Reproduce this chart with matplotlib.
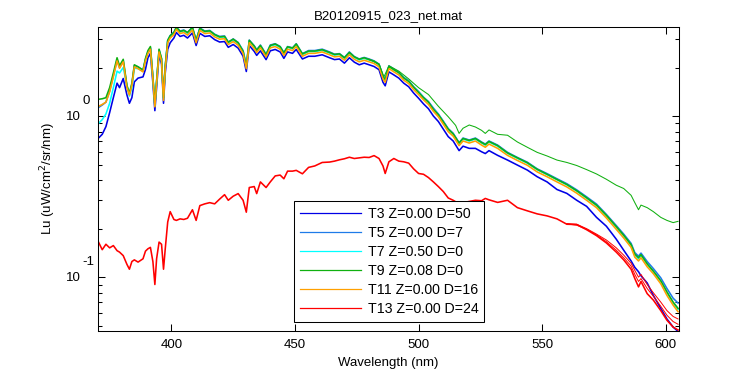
import matplotlib
matplotlib.use("Agg")
import matplotlib.pyplot as plt
from matplotlib.lines import Line2D
from matplotlib.ticker import LogLocator, NullFormatter


# wavelength grid (nm) shared by the main spectra
wl = [370.5, 372, 373.5, 375, 376.5, 378, 379, 380.5, 382, 383, 384, 385, 386.5,
      388.5, 389.5, 390.5, 391.5, 392.5, 393.3, 394, 395, 396, 396.8, 397.5, 398.5,
      399.5, 401, 402, 403.5, 405, 406.5, 408.5, 410, 411.5, 413.5, 415.5, 417.5,
      419.5, 421.5, 423, 425, 427, 429, 430.3, 431.5, 433.5, 434.5, 436, 438.3, 440,
      442, 444, 445.5, 447, 449, 450.5, 453, 455.5, 458, 461, 464, 466, 468, 470,
      472, 474, 476, 478, 480, 482, 484, 485.6, 486.5, 488, 490, 492, 494, 496, 498,
      500, 502, 504, 506, 508, 510, 512, 514, 516.4, 518, 520.5, 523, 525.5, 527,
      528.5, 532, 536, 540, 544, 548, 552, 556, 560, 564, 568, 572, 576, 580, 583,
      586, 587.5, 589, 590, 592.5, 595, 598, 600.5, 603, 605]

lu_t11 = [1.15, 1.18, 1.22, 1.41, 1.75, 2.2, 1.98, 2.17, 1.5, 1.35, 1.55, 2.02, 1.97,
          1.88, 2.2, 2.45, 2.6, 1.7, 1.14, 1.6, 2.5, 2.2, 1.25, 1.97, 2.85,
          3.05, 3.2, 3.45, 3.25, 3.3, 3.18, 3.42, 2.85, 3.4, 3.25, 3.28, 3.1,
          3.0, 3.02, 2.78, 2.9, 2.75, 2.45, 1.97, 2.85, 2.62, 2.48, 2.65, 2.33, 2.65,
          2.7, 2.6, 2.38, 2.6, 2.55, 2.7, 2.35, 2.45, 2.45, 2.5, 2.4, 2.33, 2.35, 2.22,
          2.4, 2.25, 2.17, 2.22, 2.17, 2.12, 2.02, 1.7, 1.62, 1.97, 1.88, 1.8, 1.67, 1.59, 1.46,
          1.36, 1.26, 1.18, 1.07, 0.99, 0.89, 0.80, 0.75, 0.655, 0.70, 0.68, 0.70, 0.66, 0.64,
          0.67, 0.63, 0.57, 0.53, 0.495, 0.45, 0.42, 0.39, 0.363, 0.332, 0.30, 0.27, 0.233, 0.198, 0.175,
          0.153, 0.133, 0.126, 0.132, 0.116, 0.105, 0.091, 0.077, 0.067, 0.061]

lu_t9 = [1.27, 1.28, 1.30, 1.50, 1.85, 2.3, 2.05, 2.25, 1.55, 1.38, 1.6, 2.08, 2.02,
         1.93, 2.28, 2.55, 2.7, 1.75, 1.17, 1.65, 2.6, 2.28, 1.3, 2.05, 2.95,
         3.15, 3.3, 3.55, 3.35, 3.4, 3.3, 3.55, 2.95, 3.5, 3.35, 3.38, 3.2,
         3.1, 3.12, 2.87, 3.0, 2.85, 2.52, 2.03, 2.95, 2.72, 2.56, 2.74, 2.4, 2.74,
         2.8, 2.69, 2.46, 2.69, 2.64, 2.8, 2.43, 2.53, 2.53, 2.58, 2.48, 2.41, 2.43, 2.3,
         2.48, 2.33, 2.25, 2.3, 2.24, 2.19, 2.09, 1.76, 1.68, 2.03, 1.94, 1.86, 1.72, 1.64, 1.51,
         1.40, 1.30, 1.22, 1.10, 1.02, 0.92, 0.83, 0.775, 0.68, 0.725, 0.705, 0.725, 0.685, 0.665,
         0.695, 0.655, 0.59, 0.55, 0.513, 0.467, 0.435, 0.404, 0.376, 0.344, 0.311, 0.28, 0.242, 0.206, 0.182,
         0.159, 0.139, 0.132, 0.138, 0.121, 0.109, 0.095, 0.081, 0.070, 0.064]

lu_t7 = [0.90, 0.95, 1.03, 1.20, 1.50, 1.90, 1.85, 2.0, 1.55, 1.33, 1.5, 1.98, 1.97,
         1.9, 2.22, 2.48, 2.63, 1.73, 1.16, 1.63, 2.55, 2.25, 1.28, 2.02, 2.92,
         3.12, 3.28, 3.52, 3.33, 3.38, 3.26, 3.5, 2.92, 3.48, 3.33, 3.36, 3.18,
         3.08, 3.1, 2.85, 2.97, 2.82, 2.51, 2.02, 2.92, 2.69, 2.54, 2.72, 2.39, 2.72,
         2.77, 2.67, 2.44, 2.67, 2.62, 2.77, 2.41, 2.51, 2.51, 2.56, 2.46, 2.39, 2.41, 2.28,
         2.46, 2.31, 2.23, 2.28, 2.23, 2.18, 2.08, 1.75, 1.67, 2.02, 1.93, 1.85, 1.72, 1.64, 1.5,
         1.40, 1.30, 1.21, 1.10, 1.02, 0.915, 0.825, 0.772, 0.675, 0.72, 0.70, 0.72, 0.68, 0.66,
         0.69, 0.65, 0.587, 0.546, 0.51, 0.464, 0.433, 0.402, 0.374, 0.342, 0.309, 0.278, 0.24, 0.204, 0.18,
         0.158, 0.137, 0.13, 0.136, 0.12, 0.108, 0.094, 0.08, 0.069, 0.063]

lu_t5 = [1.13, 1.17, 1.22, 1.43, 1.78, 2.22, 2.0, 2.2, 1.52, 1.37, 1.57, 2.06, 2.02,
         1.92, 2.25, 2.5, 2.66, 1.74, 1.16, 1.64, 2.57, 2.26, 1.28, 2.03, 2.95,
         3.16, 3.32, 3.56, 3.37, 3.42, 3.3, 3.55, 2.96, 3.52, 3.37, 3.4, 3.22,
         3.12, 3.14, 2.88, 3.01, 2.86, 2.55, 2.05, 2.96, 2.73, 2.58, 2.76, 2.42, 2.76,
         2.81, 2.7, 2.48, 2.7, 2.65, 2.81, 2.44, 2.55, 2.55, 2.6, 2.5, 2.42, 2.44, 2.31,
         2.5, 2.34, 2.26, 2.31, 2.26, 2.2, 2.1, 1.77, 1.69, 2.05, 1.96, 1.87, 1.74, 1.66, 1.52,
         1.42, 1.31, 1.23, 1.12, 1.03, 0.93, 0.835, 0.782, 0.683, 0.73, 0.71, 0.73, 0.69, 0.67,
         0.70, 0.66, 0.595, 0.553, 0.517, 0.47, 0.439, 0.408, 0.38, 0.348, 0.315, 0.284, 0.245, 0.209, 0.185,
         0.162, 0.142, 0.135, 0.141, 0.125, 0.113, 0.099, 0.085, 0.074, 0.069]

lu_t3 = [0.73, 0.77, 0.86, 1.05, 1.30, 1.60, 1.50, 1.71, 1.35, 1.20, 1.30, 1.63, 1.72,
         1.75, 1.95, 2.30, 2.45, 1.60, 1.08, 1.50, 2.40, 2.10, 1.20, 1.85, 2.60,
         2.85, 3.05, 3.30, 3.12, 3.17, 3.05, 3.28, 2.74, 3.26, 3.12, 3.15, 2.98,
         2.88, 2.9, 2.67, 2.78, 2.64, 2.35, 1.89, 2.74, 2.52, 2.38, 2.54, 2.24, 2.54,
         2.59, 2.5, 2.28, 2.5, 2.45, 2.59, 2.26, 2.35, 2.35, 2.4, 2.3, 2.24, 2.26, 2.13,
         2.3, 2.16, 2.08, 2.13, 2.08, 2.03, 1.94, 1.62, 1.54, 1.88, 1.8, 1.72, 1.6, 1.52, 1.39,
         1.29, 1.19, 1.11, 1.0, 0.925, 0.83, 0.745, 0.70, 0.61, 0.65, 0.63, 0.63, 0.60, 0.585,
         0.61, 0.57, 0.533, 0.496, 0.462, 0.42, 0.39, 0.35, 0.331, 0.30, 0.275, 0.235, 0.207, 0.172, 0.147,
         0.126, 0.115, 0.108, 0.102, 0.092, 0.077, 0.064, 0.055, 0.049, 0.046]

lu_t13 = [0.165, 0.148, 0.16, 0.152, 0.157, 0.146, 0.143, 0.136, 0.12, 0.112, 0.125, 0.128, 0.124,
          0.13, 0.145, 0.15, 0.153, 0.125, 0.09, 0.13, 0.165, 0.16, 0.112, 0.15, 0.22,
          0.255, 0.228, 0.225, 0.23, 0.228, 0.232, 0.262, 0.225, 0.278, 0.285, 0.29, 0.285,
          0.305, 0.325, 0.30, 0.318, 0.33, 0.30, 0.253, 0.36, 0.365, 0.33, 0.39, 0.36, 0.39,
          0.425, 0.43, 0.408, 0.455, 0.455, 0.46, 0.438, 0.48, 0.49, 0.515, 0.518, 0.525, 0.535, 0.543,
          0.555, 0.545, 0.55, 0.555, 0.553, 0.568, 0.545, 0.49, 0.44, 0.52, 0.545, 0.525, 0.52, 0.51, 0.47,
          0.44, 0.435, 0.415, 0.39, 0.365, 0.34, 0.31, 0.30, 0.285, 0.29, 0.295, 0.30, 0.298, 0.308,
          0.302, 0.291, 0.30, 0.27, 0.258, 0.247, 0.24, 0.23, 0.213, 0.212, 0.197, 0.181, 0.163, 0.143, 0.128,
          0.112, 0.098, 0.087, 0.094, 0.079, 0.072, 0.062, 0.054, 0.049, 0.047]

# second (thin) profiles of T9 and T13 near the red end
wl_tail = [480, 484, 486, 488, 492, 496, 500, 504, 508, 512, 515, 516.4, 518, 520.5,
           523, 525.5, 527, 528.5, 532, 536, 540, 544, 548, 552, 556, 560, 564, 568,
           572, 576, 580, 583, 586, 587.5, 589, 590, 592.5, 595, 598, 600.5, 603, 605]
lu_t9_thin = [2.25, 2.1, 1.75, 2.05, 1.9, 1.7, 1.5, 1.36, 1.15, 0.99, 0.875, 0.78, 0.84, 0.88,
              0.855, 0.815, 0.78, 0.82, 0.77, 0.76, 0.69, 0.64, 0.595, 0.565, 0.533, 0.515, 0.493, 0.465,
              0.437, 0.405, 0.372, 0.355, 0.322, 0.29, 0.262, 0.28, 0.27, 0.255, 0.235, 0.225, 0.218, 0.222]

wl_red_tail = [560, 564, 568, 572, 576, 580, 583, 586, 587.5, 589, 590, 592.5, 595, 598, 600.5, 603, 605]
lu_t13_a = [0.215, 0.213, 0.2, 0.185, 0.17, 0.152, 0.137, 0.122, 0.11, 0.1, 0.104, 0.09, 0.08, 0.07, 0.062, 0.057, 0.055]
lu_t13_b = [0.214, 0.21, 0.198, 0.183, 0.166, 0.147, 0.132, 0.117, 0.104, 0.094, 0.098, 0.085, 0.076, 0.066, 0.058, 0.053, 0.051]

labels = ["T3 Z=0.00 D=50", "T5 Z=0.00 D=7", "T7 Z=0.50 D=0",
          "T9 Z=0.08 D=0", "T11 Z=0.00 D=16", "T13 Z=0.00 D=24"]
colors = ["#0000e6", "#1e7be8", "#00ffff", "#10b010", "#ffa000", "#ff0000"]

# decades labelled MATLAB style: "10" with a raised exponent
y_decades = [0.1, 1.0]
y_exponents = ["-1", "0"]

plt.rcParams["font.family"] = ["Liberation Sans", "DejaVu Sans"]

fig = plt.figure(figsize=(7.5, 3.75), dpi=100)
ax = fig.add_axes([0.1307, 0.1173, 0.7747, 0.8107])

series = [lu_t3, lu_t5, lu_t7, lu_t9, lu_t11, lu_t13]
for vals, c in zip(series[:5], colors[:5]):
    ax.plot(wl, vals, color=c, lw=1.15)
ax.plot(wl_tail, lu_t9_thin, color=colors[3], lw=0.75)
ax.plot(wl, lu_t13, color=colors[5], lw=1.15)
ax.plot(wl_red_tail, lu_t13_a, color=colors[5], lw=0.7)
ax.plot(wl_red_tail, lu_t13_b, color=colors[5], lw=0.7)

ax.set_yscale("log")
ax.set_xlim(370.3, 605.4)
ax.set_ylim(0.0463, 3.57)
ax.set_xticks([400, 450, 500, 550, 600])
ax.yaxis.set_major_locator(LogLocator(base=10))
ax.yaxis.set_minor_locator(LogLocator(base=10, subs=range(2, 10)))
ax.yaxis.set_minor_formatter(NullFormatter())
ax.yaxis.set_major_formatter(NullFormatter())
ax.tick_params(which="both", direction="in", top=True, right=True, labelsize=9.5, width=0.75)
ax.tick_params(which="major", length=5, pad=6)
ax.tick_params(which="minor", length=3)
for s in ax.spines.values():
    s.set_linewidth(0.75)

ytrans = ax.get_yaxis_transform()
for v, e in zip(y_decades, y_exponents):
    ax.annotate("10", xy=(0, v), xycoords=ytrans, xytext=(-17, -1),
                textcoords="offset pixels", ha="right", va="center", fontsize=9.5)
    ax.annotate(e, xy=(0, v), xycoords=ytrans, xytext=(-16, 9),
                textcoords="offset pixels", ha="left", va="bottom", fontsize=9.5)

ax.set_title("B20120915_023_net.mat", fontsize=9.5, pad=6)
ax.set_xlabel("Wavelength (nm)", fontsize=9.5)
ax.set_ylabel("Lu (uW/cm$^2$/sr/nm)", fontsize=9.5)
ax.yaxis.set_label_coords(-0.069, 0.5)

handles = [Line2D([], [], color=c, lw=0.9) for c in colors]
leg = ax.legend(handles, labels, loc="lower left", bbox_to_anchor=(0.337, 0.0296),
                fontsize=10.2, handlelength=4.3, handletextpad=0.5, labelspacing=0.36,
                borderpad=0.42, borderaxespad=0, fancybox=False, framealpha=1,
                edgecolor="black")
leg.get_frame().set_linewidth(0.75)

fig.savefig("out.png", dpi=100)
